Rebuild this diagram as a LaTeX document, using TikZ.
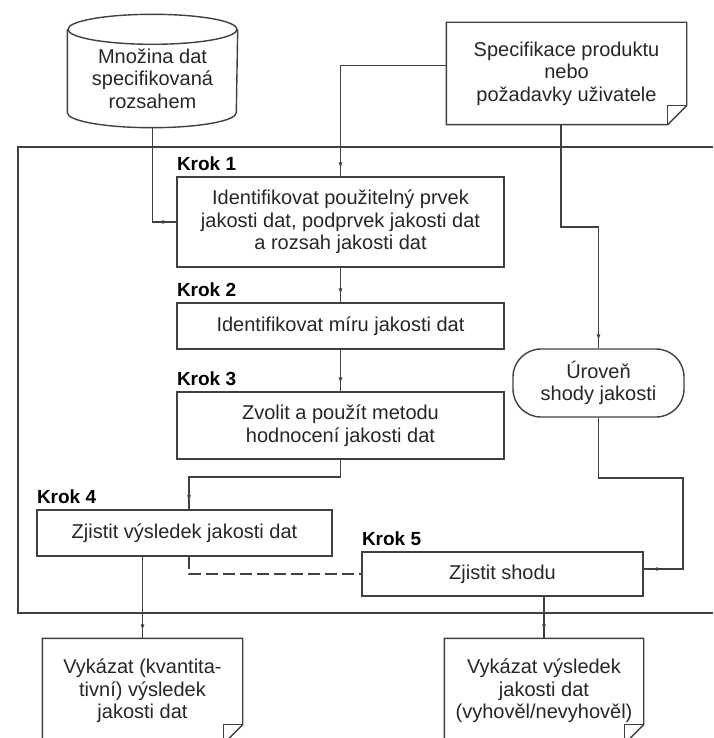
\documentclass[tikz,border=0pt]{standalone}
\usepackage{fontspec}
\setmainfont{Liberation Sans}
\usetikzlibrary{calc,arrows.meta,decorations.markings}

\begin{document}
\begin{tikzpicture}[x=1pt,y=-1pt,line width=1.4pt,color=black!75,text=black!85,
	stepbox/.style={draw,rectangle,inner sep=0pt,align=center,font=\fontsize{20}{22.5}\selectfont},
	steplabel/.style={anchor=south west,inner sep=0pt,text=black,font=\fontsize{19}{22}\selectfont\bfseries},
	docbox/.style={rectangle,inner sep=0pt,align=center,font=\fontsize{20}{22.5}\selectfont},
	flow/.style={postaction={decorate},decoration={markings,mark=at position -7pt with {\arrow{Latex[length=7pt,width=4pt]}}}}]
	\useasboundingbox (0,0) rectangle (713,738);
	\clip (0,0) rectangle (713,738);
	%frame
	\draw[line width=1.6pt] (713,147)--(18,147)--(18,613)--(713,613);
	%inputs
	\node[docbox,minimum width=169pt,minimum height=97pt] (dataset) at (152.5,78.5) {Množina dat\\specifikovaná\\rozsahem};
	\draw (dataset.north) ellipse [x radius=84.5pt,y radius=15pt];
	\draw (dataset.north west)--([yshift=15pt]dataset.south west) arc[start angle=180,end angle=360,x radius=84.5pt,y radius=15pt]--(dataset.north east);
	\node[docbox,minimum width=239pt,minimum height=101pt] (spec) at (566.5,73.5) {Specifikace produktu\\nebo\\požadavky uživatele};
	%steps
	\node[stepbox,minimum width=327pt,minimum height=90pt] (krok1) at (340.5,222) {Identifikovat použitelný prvek\\jakosti dat, podprvek jakosti dat\\a rozsah jakosti dat};
	\node[stepbox,minimum width=327pt,minimum height=46pt] (krok2) at (340.5,326) {Identifikovat míru jakosti dat};
	\node[stepbox,minimum width=327pt,minimum height=67pt] (krok3) at (340.5,425.5) {Zvolit a použít metodu\\hodnocení jakosti dat};
	\node[stepbox,minimum width=295pt,minimum height=46pt] (krok4) at (184.5,533) {Zjistit výsledek jakosti dat};
	\node[stepbox,minimum width=281pt,minimum height=44pt] (krok5) at (502.5,574) {Zjistit shodu};
	\node[stepbox,rounded corners=28pt,minimum width=171pt,minimum height=68pt] (level) at (598.5,383) {Úroveň\\shody jakosti};
	\node[steplabel] (lab1) at ([yshift=5pt]krok1.north west) {Krok 1};
	\node[steplabel] (lab2) at ([yshift=5pt]krok2.north west) {Krok 2};
	\node[steplabel] (lab3) at ([yshift=5pt]krok3.north west) {Krok 3};
	\node[steplabel] (lab4) at ([yshift=5pt]krok4.north west) {Krok 4};
	\node[steplabel] (lab5) at ([yshift=5pt]krok5.north west) {Krok 5};
	%outputs
	\node[docbox,minimum width=199pt,minimum height=104pt] (outq) at (142.5,691) {Vykázat (kvantita-\\tivní) výsledek\\jakosti dat};
	\node[docbox,minimum width=198pt,minimum height=104pt] (outc) at (544,691) {Vykázat výsledek\\jakosti dat\\(vyhověl/nevyhověl)};
	\foreach \d in {spec,outq,outc}{
		\draw (\d.north west)--(\d.north east)--([yshift=19pt]\d.south east)--([xshift=-19pt]\d.south east)--(\d.south west)--cycle;
		\draw ([yshift=19pt]\d.south east)--([xshift=-19pt,yshift=19pt]\d.south east)--([xshift=-19pt]\d.south east);
	}
	%connectors
	\coordinate (bend1) at (561,227);
	\coordinate (bend2) at (683,478);
	\coordinate (bend3) at (189,477);
	\draw[flow] (dataset.south) |- (krok1.west);
	\draw[flow] ([yshift=8pt]spec.west) -| (krok1.north);
	\draw[flow] (bend1 |- spec.south)--(bend1) -| (level.north);
	\draw[flow] (krok1.south)--(krok2.north);
	\draw[flow] (krok2.south)--(krok3.north);
	\draw[flow] (krok3.south) |- (bend3)--(bend3 |- krok4.north);
	\draw[dash pattern=on 12pt off 5pt] (bend3 |- krok4.south) |- (krok5.west);
	\draw[flow] (level.south) |- (bend2) |- ([yshift=5pt]krok5.east);
	\draw[flow] (outq.north |- krok4.south)--(outq.north);
	\draw[flow] (outc.north |- krok5.south)--(outc.north);
\end{tikzpicture}
\end{document}
